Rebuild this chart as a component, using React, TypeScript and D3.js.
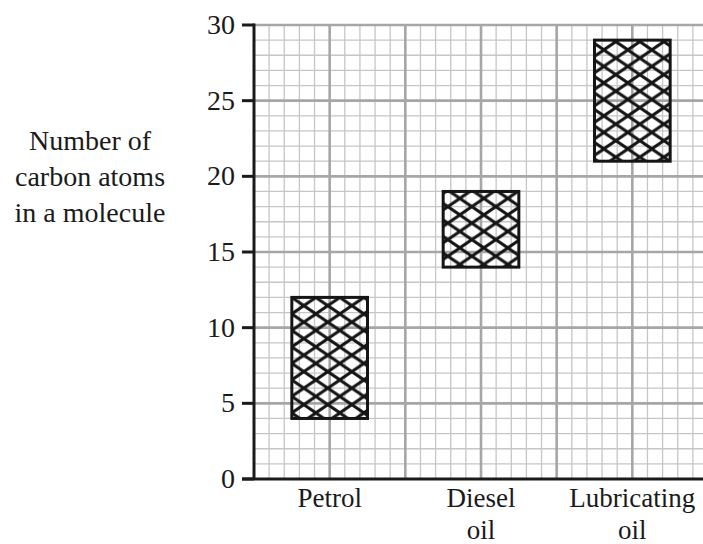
import React, { useEffect, useRef } from "react"
import * as d3 from "d3"

const categories = ["Petrol", "Diesel oil", "Lubricating oil"]
const minAtoms = [4, 14, 21]
const maxAtoms = [12, 19, 29]
const yTicks = [0, 5, 10, 15, 20, 25, 30]
const yTitle = ["Number of", "carbon atoms", "in a molecule"]

const width = 703
const height = 544
const left = 254
const bottom = 479
const top = 25
const unit = (bottom - top) / 30

const font =
  "'Liberation Serif', 'LiberationSerif', 'DejaVu Serif', 'Noto Serif', Tinos, 'Nimbus Roman', 'FreeSerif', 'Times New Roman', Times, serif"

export default function App() {
  const ref = useRef<SVGSVGElement>(null)

  useEffect(() => {
    const svg = d3.select(ref.current)
    svg.selectAll("*").remove()

    const xScale = d3.scaleLinear().domain([0, 30]).range([left, left + 30 * unit])
    const yScale = d3.scaleLinear().domain([0, 30]).range([bottom, top])
    const band = d3
      .scaleBand()
      .domain(categories)
      .range([xScale(0), xScale(30)])
      .paddingInner(0.5)
      .paddingOuter(0.25)

    // cross hatch, one line family each way
    const tw = 24
    const th = 16.5
    const pat = svg
      .append("defs")
      .append("pattern")
      .attr("id", "hatch")
      .attr("patternUnits", "userSpaceOnUse")
      .attr("x", band(categories[0]) as number)
      .attr("y", yScale(maxAtoms[0]))
      .attr("width", tw)
      .attr("height", th)
    pat
      .append("path")
      .attr(
        "d",
        `M${-tw},${-th} L${2 * tw},${2 * th} M${-tw},${2 * th} L${2 * tw},${-th}` +
          ` M${-tw},0 L${tw},${2 * th} M0,${-th} L${2 * tw},${th}` +
          ` M${-tw},${th} L${tw},${-th} M0,${2 * th} L${2 * tw},0`
      )
      .attr("stroke", "#151515")
      .attr("stroke-width", 3)

    const grid = svg.append("g")
    const units = d3.range(0, 31)
    const minor = units.filter(d => d % 5 !== 0)
    const major = units.filter(d => d % 5 === 0 && d > 0)

    grid
      .selectAll("line.vmin")
      .data(minor)
      .enter()
      .append("line")
      .attr("x1", d => xScale(d))
      .attr("x2", d => xScale(d))
      .attr("y1", yScale(0))
      .attr("y2", yScale(30))
      .attr("stroke", "#c6c6c6")
      .attr("stroke-width", 1.3)
    grid
      .selectAll("line.hmin")
      .data(minor)
      .enter()
      .append("line")
      .attr("y1", d => yScale(d))
      .attr("y2", d => yScale(d))
      .attr("x1", xScale(0))
      .attr("x2", width)
      .attr("stroke", "#c6c6c6")
      .attr("stroke-width", 1.3)
    grid
      .selectAll("line.vmaj")
      .data(major)
      .enter()
      .append("line")
      .attr("x1", d => xScale(d))
      .attr("x2", d => xScale(d))
      .attr("y1", yScale(0))
      .attr("y2", yScale(30) - 1)
      .attr("stroke", "#a6a6a6")
      .attr("stroke-width", 2.6)
    grid
      .selectAll("line.hmaj")
      .data(major)
      .enter()
      .append("line")
      .attr("y1", d => yScale(d))
      .attr("y2", d => yScale(d))
      .attr("x1", xScale(0))
      .attr("x2", width)
      .attr("stroke", "#a6a6a6")
      .attr("stroke-width", 2.6)

    // boxes
    svg
      .append("g")
      .selectAll("rect")
      .data(categories)
      .enter()
      .append("rect")
      .attr("x", d => band(d) as number)
      .attr("width", band.bandwidth())
      .attr("y", (d, i) => yScale(maxAtoms[i]))
      .attr("height", (d, i) => yScale(minAtoms[i]) - yScale(maxAtoms[i]))
      .attr("fill", "url(#hatch)")
      .attr("stroke", "#151515")
      .attr("stroke-width", 3)

    // axes
    const axes = svg.append("g").attr("stroke", "#1a1a1a").attr("stroke-width", 3)
    axes
      .append("line")
      .attr("x1", xScale(0))
      .attr("x2", xScale(0))
      .attr("y1", yScale(0))
      .attr("y2", yScale(30) - 1.5)
    axes
      .append("line")
      .attr("x1", xScale(0) - 12)
      .attr("x2", width)
      .attr("y1", yScale(0))
      .attr("y2", yScale(0))
    axes
      .selectAll("line.tick")
      .data(yTicks)
      .enter()
      .append("line")
      .attr("x1", xScale(0) - 12)
      .attr("x2", xScale(0))
      .attr("y1", d => yScale(d))
      .attr("y2", d => yScale(d))

    svg
      .append("g")
      .selectAll("text")
      .data(yTicks)
      .enter()
      .append("text")
      .attr("x", xScale(0) - 19)
      .attr("y", d => yScale(d) + 9)
      .attr("text-anchor", "end")
      .attr("font-family", font)
      .attr("font-size", 28)
      .attr("fill", "#1a1a1a")
      .text(d => d)

    // category labels
    const catG = svg.append("g")
    categories.forEach(c => {
      const cx = (band(c) as number) + band.bandwidth() / 2
      const t = catG
        .append("text")
        .attr("text-anchor", "middle")
        .attr("font-family", font)
        .attr("font-size", 27)
        .attr("fill", "#1a1a1a")
      c.split(" ").forEach((w, i) => {
        t.append("tspan").attr("x", cx).attr("y", 507 + i * 32).text(w)
      })
    })

    svg
      .append("text")
      .attr("text-anchor", "middle")
      .attr("font-family", font)
      .attr("font-size", 28)
      .attr("fill", "#1a1a1a")
      .selectAll("tspan")
      .data(yTitle)
      .enter()
      .append("tspan")
      .attr("x", 90)
      .attr("y", (d, i) => 150 + i * 36)
      .text(d => d)
  }, [])

  return (
    <svg
      ref={ref}
      width={width}
      height={height}
      style={{ position: "fixed", left: 0, top: 0, background: "white" }}
    />
  )
}
